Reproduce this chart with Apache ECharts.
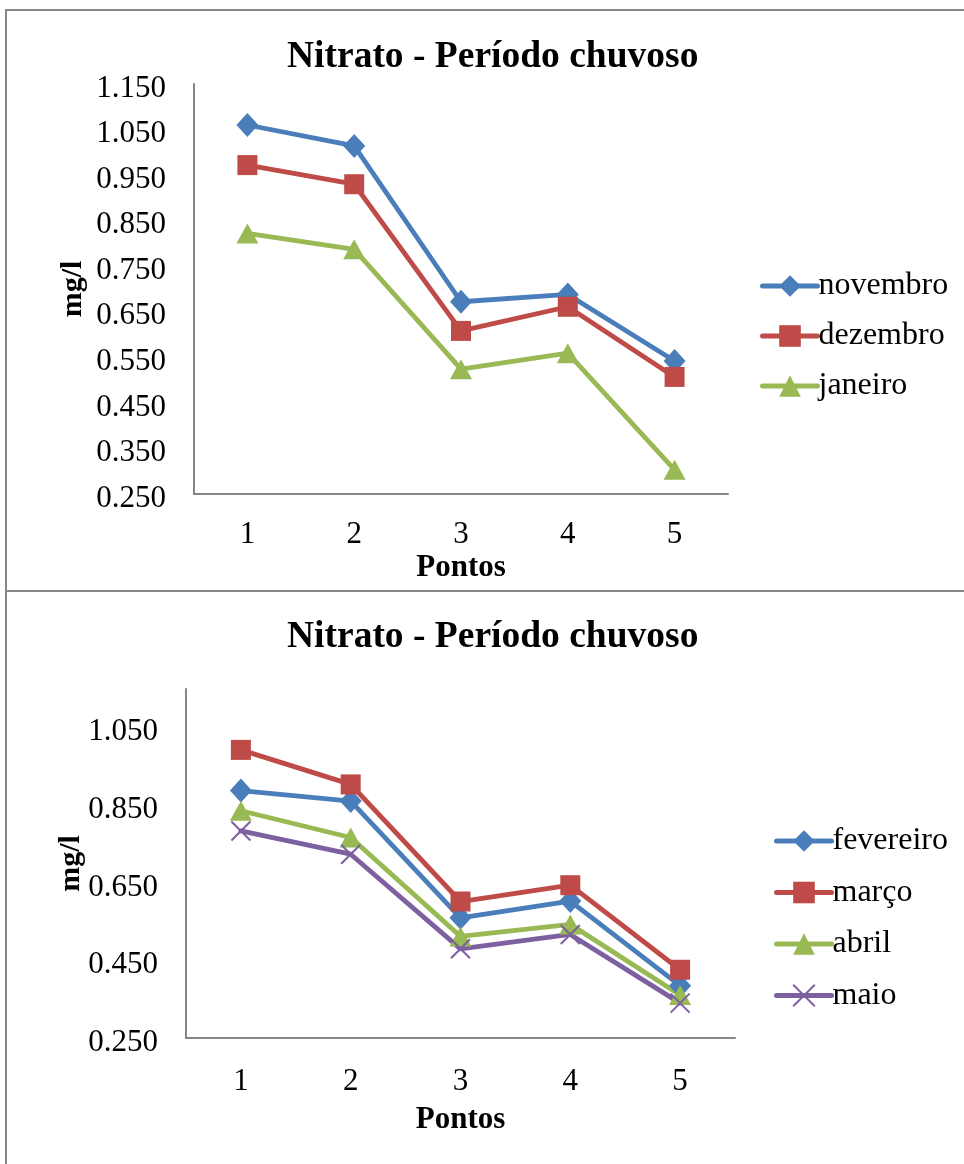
<!DOCTYPE html>
<html>
<head>
<meta charset="utf-8">
<title>Nitrato - Período chuvoso</title>
<script src="https://cdn.jsdelivr.net/npm/echarts@6/dist/echarts.min.js"></script>
<style>
  html, body { margin: 0; padding: 0; background: #ffffff; }
  #chart { width: 964px; height: 1164px; }
</style>
</head>
<body>
<div id="chart"></div>
<script>
// Sampling points along the river
const pontos = ['1', '2', '3', '4', '5'];

// Nitrate (mg/l), first block of months
const novembro = [1.060, 1.014, 0.672, 0.688, 0.542];
const dezembro = [0.972, 0.930, 0.608, 0.661, 0.507];
const janeiro  = [0.822, 0.787, 0.524, 0.559, 0.303];

// Nitrate (mg/l), second block of months
const fevereiro = [0.888, 0.861, 0.560, 0.603, 0.385];
const marco     = [0.993, 0.904, 0.602, 0.644, 0.426];
const abril     = [0.836, 0.767, 0.512, 0.543, 0.361];
const maio      = [0.784, 0.724, 0.480, 0.517, 0.340];

const titulo = 'Nitrato - Período chuvoso';
const FONT = '"Liberation Serif", "Times New Roman", serif';
const AXIS_GREY = '#868686';
const COLORS = { blue: '#4A7EBB', red: '#BE4B48', green: '#98B954', purple: '#7D60A0' };
const CROSS = 'path://M0,0 L10,10 M10,0 L0,10';

function serie(name, data, color, symbol, size, idx, extraItem) {
  return {
    name: name,
    type: 'line',
    data: data,
    xAxisIndex: idx,
    yAxisIndex: idx,
    symbol: symbol,
    symbolSize: size,
    showAllSymbol: true,
    lineStyle: { color: color, width: 4.8, cap: 'round', join: 'round' },
    itemStyle: Object.assign({ color: color, borderWidth: 0 }, extraItem || {}),
    emphasis: { disabled: true },
    animation: false
  };
}

function xAxis(idx, labelMargin, nameGap) {
  return {
    type: 'category',
    gridIndex: idx,
    data: pontos,
    boundaryGap: true,
    axisLine: { lineStyle: { color: AXIS_GREY, width: 2 } },
    axisTick: { show: false },
    axisLabel: { color: '#000', fontFamily: FONT, fontSize: 31, margin: labelMargin },
    name: 'Pontos',
    nameLocation: 'middle',
    nameGap: nameGap,
    nameMoveOverlap: false,
    nameTextStyle: { color: '#000', fontFamily: FONT, fontSize: 31, fontWeight: 'bold' }
  };
}

function yAxis(idx, interval, showMax, nameGap) {
  return {
    type: 'value',
    gridIndex: idx,
    min: 0.25,
    max: 1.15,
    interval: interval,
    axisLine: { show: true, lineStyle: { color: AXIS_GREY, width: 2 } },
    axisTick: { show: false },
    splitLine: { show: false },
    axisLabel: {
      color: '#000', fontFamily: FONT, fontSize: 31, margin: 28,
      showMaxLabel: showMax,
      formatter: function (v) { return '{v|' + v.toFixed(3) + '}'; },
      rich: { v: { fontFamily: FONT, fontSize: 31, color: '#000', padding: [9, 0, 0, 0] } }
    },
    name: 'mg/l',
    nameLocation: 'middle',
    nameGap: nameGap,
    nameMoveOverlap: false,
    nameTextStyle: { color: '#000', fontFamily: FONT, fontSize: 30, fontWeight: 'bold' }
  };
}

function legend(names, top, left, gap) {
  return {
    data: names,
    orient: 'vertical',
    left: left,
    top: top,
    padding: 0,
    itemWidth: 55,
    itemHeight: 27,
    itemGap: gap,
    selectedMode: false,
    lineStyle: { width: 5, cap: 'round' },
    textStyle: { color: '#000', fontFamily: FONT, fontSize: 32, lineHeight: 32, padding: [0, 0, 0, -4] }
  };
}

function title(top) {
  return {
    text: titulo, left: 282, top: top,
    textStyle: { fontFamily: FONT, fontSize: 37.5, fontWeight: 'bold', color: '#000' }
  };
}

const chart = echarts.init(document.getElementById('chart'), null, { renderer: 'canvas' });

chart.setOption({
  backgroundColor: '#ffffff',
  animation: false,
  title: [title(33), title(613)],
  graphic: [
    { type: 'rect', shape: { x: 6, y: 10, width: 980, height: 581 }, style: { fill: 'none', stroke: AXIS_GREY, lineWidth: 2 }, silent: true },
    { type: 'rect', shape: { x: 6, y: 591, width: 980, height: 600 }, style: { fill: 'none', stroke: AXIS_GREY, lineWidth: 2 }, silent: true }
  ],
  legend: [
    legend(['novembro', 'dezembro', 'janeiro'], 270, 760, 18),
    legend(['fevereiro', 'março', 'abril', 'maio'], 825, 774, 19.5)
  ],
  grid: [
    { left: 194, right: 236, top: 84, bottom: 670, containLabel: false },
    { left: 186, right: 229, top: 689, bottom: 126, containLabel: false }
  ],
  xAxis: [xAxis(0, 25, 58), xAxis(1, 28, 66)],
  yAxis: [yAxis(0, 0.1, true, 106), yAxis(1, 0.2, false, 100)],
  series: [
    serie('novembro', novembro, COLORS.blue, 'diamond', [22, 24], 0),
    serie('dezembro', dezembro, COLORS.red, 'rect', 20, 0),
    serie('janeiro', janeiro, COLORS.green, 'triangle', [22, 20], 0),
    serie('fevereiro', fevereiro, COLORS.blue, 'diamond', [22, 24], 1),
    serie('março', marco, COLORS.red, 'rect', 20, 1),
    serie('abril', abril, COLORS.green, 'triangle', [22, 20], 1),
    serie('maio', maio, COLORS.purple, CROSS, 19, 1, { color: 'none', borderColor: COLORS.purple, borderWidth: 2 })
  ]
});
</script>
</body>
</html>
